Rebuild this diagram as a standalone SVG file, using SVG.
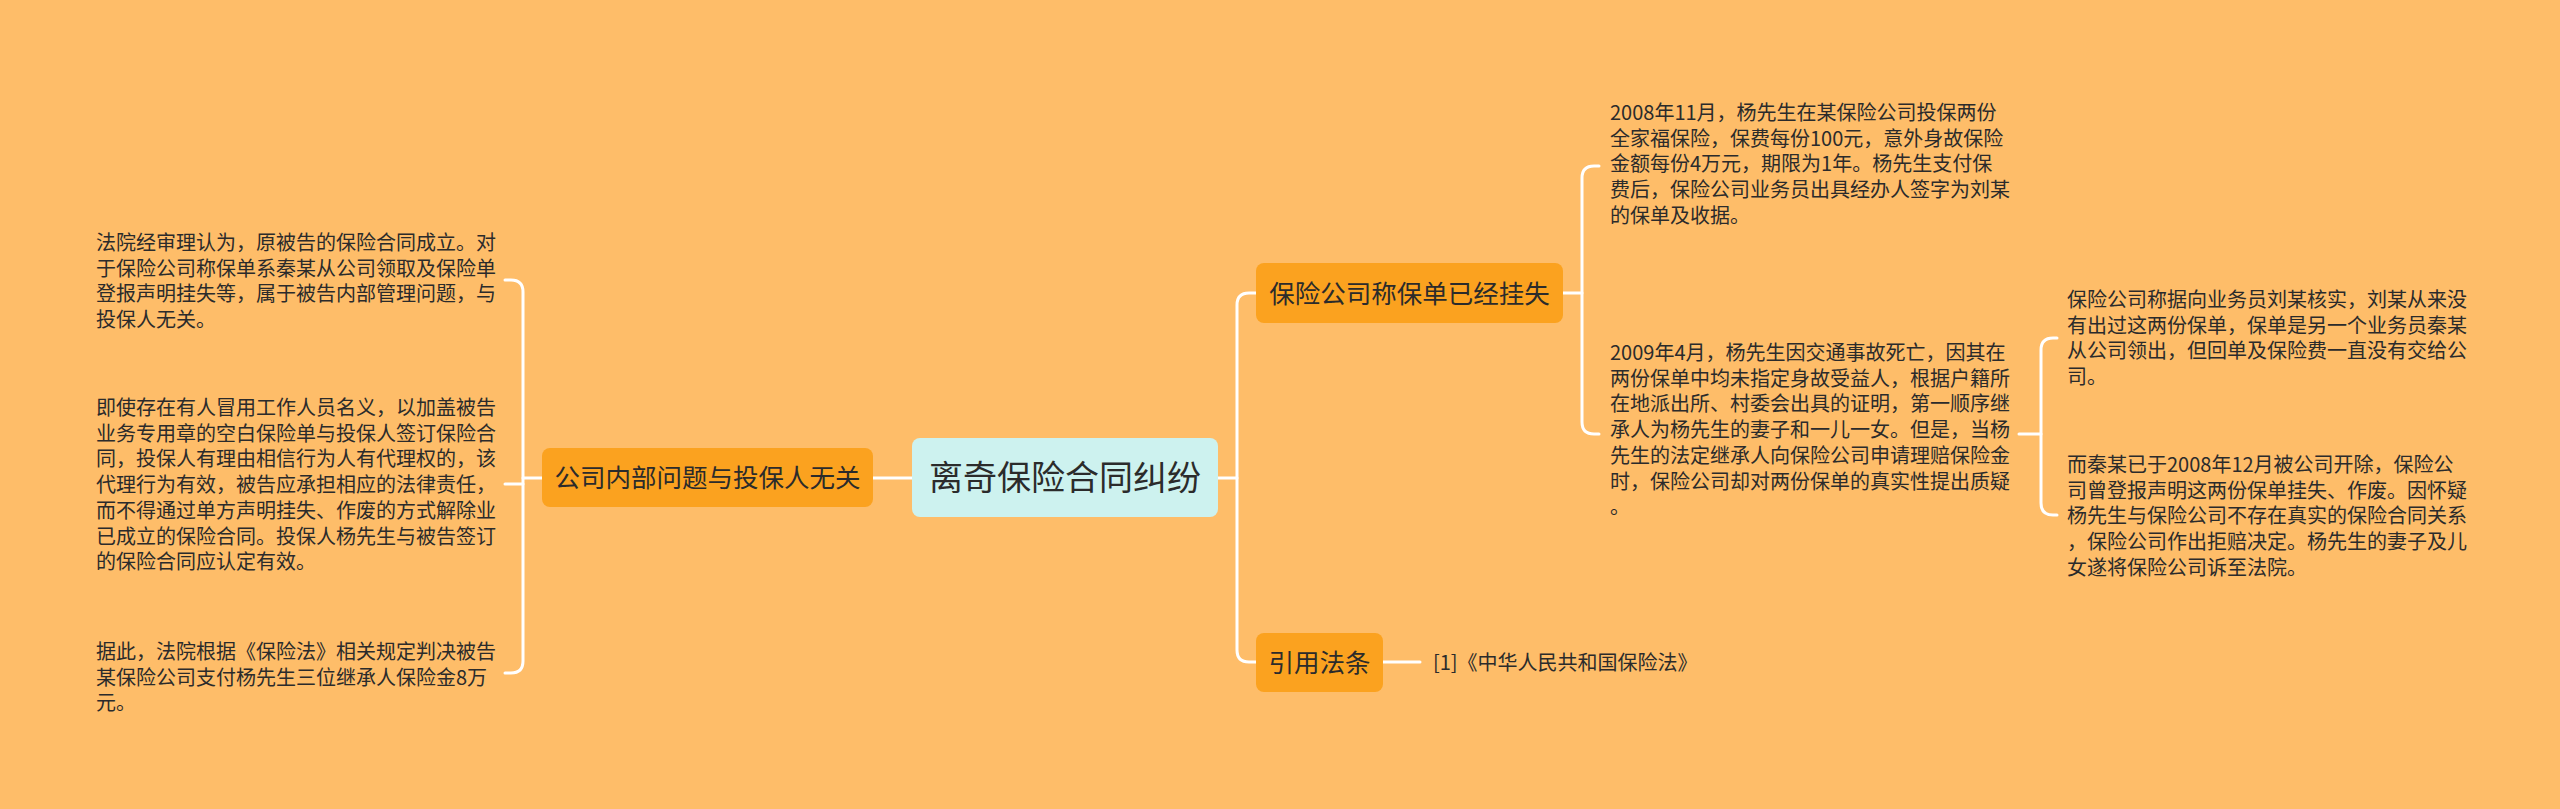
<svg xmlns="http://www.w3.org/2000/svg" width="2560" height="809" viewBox="0 0 2560 809">
<style>
.bg{fill:#FEBD69}
.l1{fill:#FBA21F}
.root{fill:#CDF2EF}
.conn path{fill:none;stroke:#FFFFFF;stroke-width:3;stroke-linecap:round}
text{font-family:"Noto Sans CJK SC","Noto Sans",sans-serif;fill:#2B2B2B}
.t{font-size:20px}
.lt{font-size:25.5px}
</style>
<rect class="bg" x="0" y="0" width="2560" height="809"/>
<g id="connectors" class="conn">
<path d="M873,478 H912"/>
<path d="M505,280 H511 Q523,280 523,292 V661 Q523,673 511,673 H505"/>
<path d="M505,484 H523"/>
<path d="M523,478 H542"/>
<path d="M1218,478 H1237"/>
<path d="M1256,293 H1249 Q1237,293 1237,305 V650 Q1237,662 1249,662 H1256"/>
<path d="M1563,293 H1582"/>
<path d="M1599,166 H1594 Q1582,166 1582,178 V422 Q1582,434 1594,434 H1599"/>
<path d="M2019,434 H2041"/>
<path d="M2057,338 H2053 Q2041,338 2041,350 V503 Q2041,515 2053,515 H2057"/>
<path d="M1383,662 H1420"/>
</g>
<g id="root">
<rect class="root" x="912" y="438" width="306" height="79" rx="8"/>
<text x="1065" y="490" font-size="34" text-anchor="middle">离奇保险合同纠纷</text>
</g>
<g id="n-left">
<rect class="l1" x="542" y="448" width="331" height="59" rx="8"/>
<text class="lt" x="707.5" y="487" text-anchor="middle">公司内部问题与投保人无关</text>
</g>
<g id="n-left-1" class="t">
<text x="96" y="250">法院经审理认为，原被告的保险合同成立。对</text>
<text x="96" y="275.7">于保险公司称保单系秦某从公司领取及保险单</text>
<text x="96" y="301.4">登报声明挂失等，属于被告内部管理问题，与</text>
<text x="96" y="327.1">投保人无关。</text>
</g>
<g id="n-left-2" class="t">
<text x="96" y="415">即使存在有人冒用工作人员名义，以加盖被告</text>
<text x="96" y="440.7">业务专用章的空白保险单与投保人签订保险合</text>
<text x="96" y="466.4">同，投保人有理由相信行为人有代理权的，该</text>
<text x="96" y="492.1">代理行为有效，被告应承担相应的法律责任，</text>
<text x="96" y="517.8">而不得通过单方声明挂失、作废的方式解除业</text>
<text x="96" y="543.5">已成立的保险合同。投保人杨先生与被告签订</text>
<text x="96" y="569.2">的保险合同应认定有效。</text>
</g>
<g id="n-left-3" class="t">
<text x="96" y="659">据此，法院根据《保险法》相关规定判决被告</text>
<text x="96" y="684.7">某保险公司支付杨先生三位继承人保险金8万</text>
<text x="96" y="710.4">元。</text>
</g>
<g id="n-lost">
<rect class="l1" x="1256" y="263" width="307" height="60" rx="8"/>
<text class="lt" x="1409.5" y="302.5" text-anchor="middle">保险公司称保单已经挂失</text>
</g>
<g id="n-2008" class="t">
<text x="1610" y="120">2008年11月，杨先生在某保险公司投保两份</text>
<text x="1610" y="145.7">全家福保险，保费每份100元，意外身故保险</text>
<text x="1610" y="171.4">金额每份4万元，期限为1年。杨先生支付保</text>
<text x="1610" y="197.1">费后，保险公司业务员出具经办人签字为刘某</text>
<text x="1610" y="222.8">的保单及收据。</text>
</g>
<g id="n-2009" class="t">
<text x="1610" y="360">2009年4月，杨先生因交通事故死亡，因其在</text>
<text x="1610" y="385.7">两份保单中均未指定身故受益人，根据户籍所</text>
<text x="1610" y="411.4">在地派出所、村委会出具的证明，第一顺序继</text>
<text x="1610" y="437.1">承人为杨先生的妻子和一儿一女。但是，当杨</text>
<text x="1610" y="462.8">先生的法定继承人向保险公司申请理赔保险金</text>
<text x="1610" y="488.5">时，保险公司却对两份保单的真实性提出质疑</text>
<text x="1610" y="514.2">。</text>
</g>
<g id="n-verify" class="t">
<text x="2067" y="307">保险公司称据向业务员刘某核实，刘某从来没</text>
<text x="2067" y="332.7">有出过这两份保单，保单是另一个业务员秦某</text>
<text x="2067" y="358.4">从公司领出，但回单及保险费一直没有交给公</text>
<text x="2067" y="384.1">司。</text>
</g>
<g id="n-fired" class="t">
<text x="2067" y="472">而秦某已于2008年12月被公司开除，保险公</text>
<text x="2067" y="497.7">司曾登报声明这两份保单挂失、作废。因怀疑</text>
<text x="2067" y="523.4">杨先生与保险公司不存在真实的保险合同关系</text>
<text x="2067" y="549.1">，保险公司作出拒赔决定。杨先生的妻子及儿</text>
<text x="2067" y="574.8">女遂将保险公司诉至法院。</text>
</g>
<g id="n-law">
<rect class="l1" x="1256" y="633" width="127" height="59" rx="8"/>
<text class="lt" x="1319.5" y="672" text-anchor="middle">引用法条</text>
</g>
<g id="n-law-1" class="t">
<text x="1433" y="670">[1]《中华人民共和国保险法》</text>
</g>
</svg>
